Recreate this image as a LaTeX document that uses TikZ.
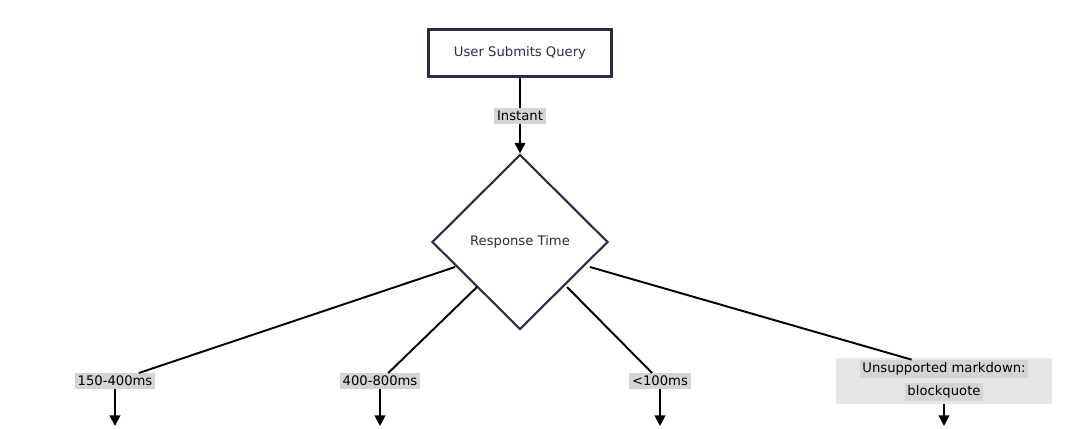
\documentclass[tikz,border=0pt]{standalone}
\usepackage{fontspec}
\setmainfont{DejaVu Sans}
\usetikzlibrary{shapes.geometric,arrows.meta}
\definecolor{ink}{HTML}{2E2A45}
\definecolor{lab}{HTML}{D4D4D4}
\definecolor{labout}{HTML}{E6E6E6}
\begin{document}
\begin{tikzpicture}[x=0.02cm,y=-0.02cm,
  txt/.style={font=\fontsize{7.5}{9}\selectfont,text=ink},
  box/.style={txt,draw=ink,line width=1.2pt,fill=white,minimum width=183*0.02cm,minimum height=47*0.02cm},
  dia/.style={txt,draw=ink,line width=1.2pt,fill=white,diamond,minimum width=176*0.02cm,minimum height=175*0.02cm,inner sep=0pt},
  lbl/.style={txt,text=black,fill=lab,inner sep=1.5pt},
  edge/.style={line width=1.1pt,black},
  arr/.style={edge,-{Triangle[length=6pt,width=6pt]}}]
\useasboundingbox (0,0) rectangle (1080,429);
\node[box] (q) at (520,53) {User Submits Query};
\node[dia] (r) at (520,242) {Response Time};
\node[lbl] (i) at (520,116) {Instant};
\draw[edge] (q) -- (i);
\draw[arr] (i) -- (r);
\node[lbl] (a) at (115,381) {150-400ms};
\node[lbl] (b) at (380,381) {400-800ms};
\node[lbl] (c) at (660,381) {<100ms};
\node[fill=labout,minimum width=216*0.02cm,minimum height=46*0.02cm,inner sep=0pt] (d) at (944,381) {};
\node[lbl] (d1) at (944,369) {Unsupported markdown:};
\node[lbl] (d2) at (944,392) {blockquote};
\draw[edge] (455,267) -- (a);
\draw[edge] (477,287) -- (b);
\draw[edge] (567,287) -- (c);
\draw[edge] (590,267) -- (d1);
\coordinate (ea) at (115,426);
\coordinate (eb) at (380,426);
\coordinate (ec) at (660,426);
\coordinate (ed) at (944,426);
\draw[arr] (a) -- (ea);
\draw[arr] (b) -- (eb);
\draw[arr] (c) -- (ec);
\draw[arr] (d) -- (ed);
\end{tikzpicture}
\end{document}
